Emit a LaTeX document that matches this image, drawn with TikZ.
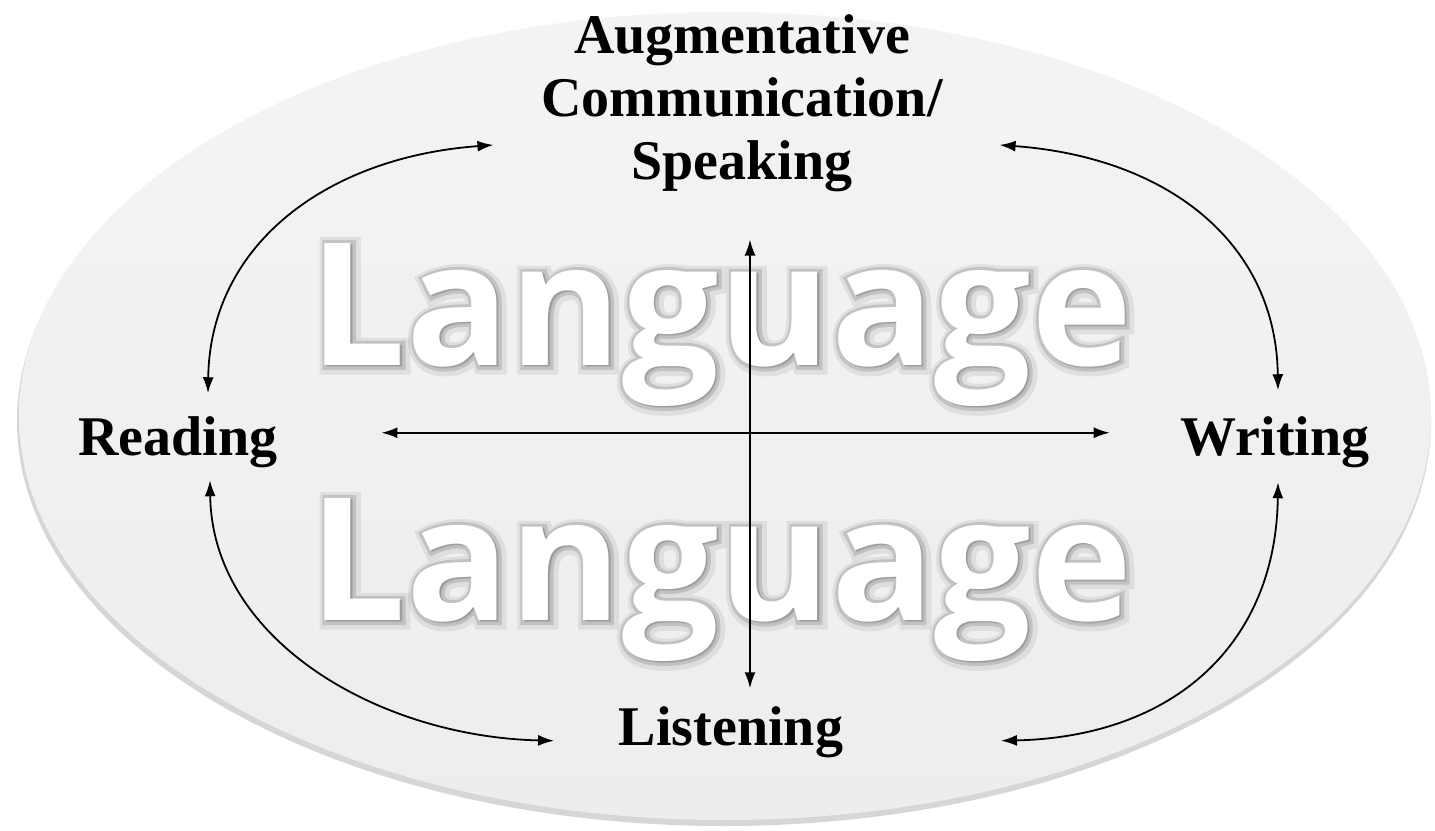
\documentclass[tikz,border=0pt]{standalone}
\usepackage{fontspec}
\setmainfont{Liberation Serif}
\font\langword="Open Sans/B" at 85.5pt
\font\langhalo="Open Sans/B:embolden=9" at 85.5pt
\font\langhaloin="Open Sans/B:embolden=4.5" at 85.5pt
\usetikzlibrary{arrows.meta}

\begin{document}
\begin{tikzpicture}[x=0.5pt,y=-0.5pt,>={Latex[length=8pt,width=5.5pt]},line width=0.9pt]

    \tikzstyle{skill}=[font=\bfseries\fontsize{28}{31.5}\selectfont,align=center,inner sep=0pt]
    \tikzstyle{bigword}=[font=\langword,inner sep=0pt,anchor=base,text=white]
    \tikzstyle{halo}=[font=\langhalo,inner sep=0pt,anchor=base,text=black,opacity=0.07]
    \tikzstyle{haloin}=[font=\langhaloin,inner sep=0pt,anchor=base,text=black,opacity=0.13]
    \tikzstyle{link}=[<->]

    \useasboundingbox (0,0) rectangle (1435,830);
    \fill[white] (0,0) rectangle (1435,830);

    % the oval
    \fill[gray!45,opacity=0.7] (724,421) ellipse [x radius=707,y radius=405];
    \shade[top color=gray!9,bottom color=gray!14] (725,416) ellipse [x radius=706,y radius=404];

    % the two watermark words
    \node[halo] at (723,367) {Language};
    \node[haloin] at (722,366) {Language};
    \node[bigword] (lang1) at (721,365) {Language};
    \node[halo] at (723,622) {Language};
    \node[haloin] at (722,621) {Language};
    \node[bigword] (lang2) at (721,620) {Language};

    % the four skills
    \node[skill] (speak) at (742,103) {Augmentative\\Communication/\\Speaking};
    \node[skill,anchor=base] (read) at (178,455) {Reading};
    \node[skill,anchor=base] (write) at (1275,455) {Writing};
    \node[skill,anchor=base] (listen) at (731,745) {Listening};

    \draw[link] ([shift={(103,-9)}]read.east) -- ([shift={(-70,-9)}]write.west);
    \draw[link] ([shift={(8,47)}]speak.south) -- ([shift={(19,-17)}]listen.north);

    \draw[link] ([shift={(30,-22)}]read.north) .. controls +(2,-150) and +(-165,12) .. ([shift={(-47,42)}]speak.west);
    \draw[link] ([shift={(56,42)}]speak.east) .. controls +(165,12) and +(-2,-150) .. ([shift={(3,-25)}]write.north);
    \draw[link] ([shift={(32,12)}]read.south) .. controls +(2,160) and +(-175,-4) .. ([shift={(-64,9)}]listen.west);
    \draw[link] ([shift={(3,14)}]write.south) .. controls +(-2,160) and +(175,-4) .. ([shift={(157,9)}]listen.east);

\end{tikzpicture}
\end{document}
